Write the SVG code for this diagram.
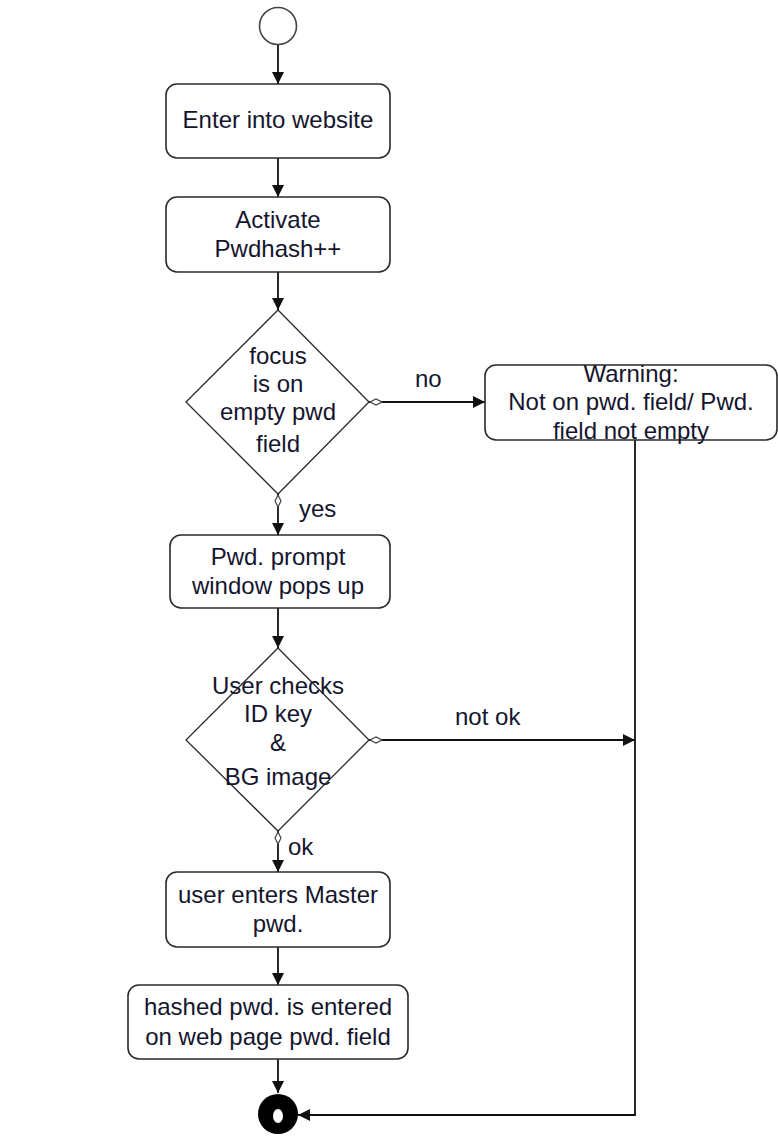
<svg xmlns="http://www.w3.org/2000/svg" width="778" height="1137" viewBox="0 0 778 1137">
<defs>
<style>
.box{fill:#fff;stroke:#2a2a2a;stroke-width:1.6}
.dec{fill:#fff;stroke:#2a2a2a;stroke-width:1.3}
.t{font-family:"Liberation Sans",Arial,sans-serif;font-size:24px;fill:#15152e;text-anchor:middle}
.lbl{font-family:"Liberation Sans",Arial,sans-serif;font-size:24px;fill:#15152e}
.edge{fill:none;stroke:#111;stroke-width:1.8}
</style>
<marker id="arr" viewBox="0 0 12 12" refX="12" refY="6" markerWidth="12" markerHeight="12" markerUnits="userSpaceOnUse" orient="auto">
<path d="M0,0 L12,6 L0,12 Z" fill="#111"/>
</marker>
<marker id="dia" viewBox="0 0 14 8" refX="0" refY="4" markerWidth="14" markerHeight="8" markerUnits="userSpaceOnUse" orient="auto">
<path d="M1,4 L7,1 L13,4 L7,7 Z" fill="#fff" stroke="#444" stroke-width="1.2"/>
</marker>
</defs>
<rect width="778" height="1137" fill="#fff"/>

<g id="connectors">
<path class="edge" d="M278,45 L278,84" marker-end="url(#arr)"/>
<path class="edge" d="M278,158 L278,197" marker-end="url(#arr)"/>
<path class="edge" d="M278,272 L278,310" marker-end="url(#arr)"/>
<path class="edge" d="M369,402 L485,402" marker-start="url(#dia)" marker-end="url(#arr)"/>
<path class="edge" d="M278,494 L278,535" marker-start="url(#dia)" marker-end="url(#arr)"/>
<path class="edge" d="M278,608 L278,648" marker-end="url(#arr)"/>
<path class="edge" d="M369,740 L635,740" marker-start="url(#dia)" marker-end="url(#arr)"/>
<path class="edge" d="M278,831 L278,872" marker-start="url(#dia)" marker-end="url(#arr)"/>
<path class="edge" d="M278,947 L278,985" marker-end="url(#arr)"/>
<path class="edge" d="M278,1059 L278,1093" marker-end="url(#arr)"/>
<path class="edge" d="M635,440 L635,1115 L298,1115" marker-end="url(#arr)"/>
<text class="lbl" x="415" y="387">no</text>
<text class="lbl" x="299" y="517">yes</text>
<text class="lbl" x="455" y="725">not ok</text>
<text class="lbl" x="288" y="855">ok</text>
</g>

<g id="start">
<circle cx="278" cy="26" r="18.5" fill="#fff" stroke="#444" stroke-width="1.6"/>
</g>

<g id="enter">
<rect class="box" x="166" y="84" width="224" height="74" rx="11"/>
<text class="t" x="278" y="128">Enter into website</text>
</g>

<g id="activate">
<rect class="box" x="166" y="197" width="224" height="75" rx="11"/>
<text class="t" x="278" y="228">Activate</text>
<text class="t" x="278" y="257">Pwdhash++</text>
</g>

<g id="focus">
<polygon class="dec" points="278,310 369,402 278,494 186,402"/>
<text class="t" x="278" y="364">focus</text>
<text class="t" x="278" y="392">is on</text>
<text class="t" x="278" y="420">empty pwd</text>
<text class="t" x="278" y="452">field</text>
</g>

<g id="warning">
<rect class="box" x="485" y="365" width="292" height="75" rx="11"/>
<text class="t" x="631" y="382">Warning:</text>
<text class="t" x="631" y="410">Not on pwd. field/ Pwd.</text>
<text class="t" x="631" y="439">field not empty</text>
</g>

<g id="prompt">
<rect class="box" x="170" y="535" width="220" height="73" rx="11"/>
<text class="t" x="278" y="565">Pwd. prompt</text>
<text class="t" x="278" y="594">window pops up</text>
</g>

<g id="checks">
<polygon class="dec" points="278,648 369,740 278,831 186,740"/>
<text class="t" x="278" y="694">User checks</text>
<text class="t" x="278" y="722">ID key</text>
<text class="t" x="278" y="751">&amp;</text>
<text class="t" x="278" y="785">BG image</text>
</g>

<g id="master">
<rect class="box" x="166" y="872" width="224" height="75" rx="11"/>
<text class="t" x="278" y="903">user enters Master</text>
<text class="t" x="278" y="932">pwd.</text>
</g>

<g id="hashed">
<rect class="box" x="128" y="985" width="280" height="74" rx="11"/>
<text class="t" x="268" y="1015">hashed pwd. is entered</text>
<text class="t" x="268" y="1045">on web page pwd. field</text>
</g>

<g id="end">
<circle cx="278" cy="1114" r="20" fill="#000"/>
<ellipse cx="278" cy="1116" rx="5" ry="7" fill="#fff"/>
</g>
</svg>
